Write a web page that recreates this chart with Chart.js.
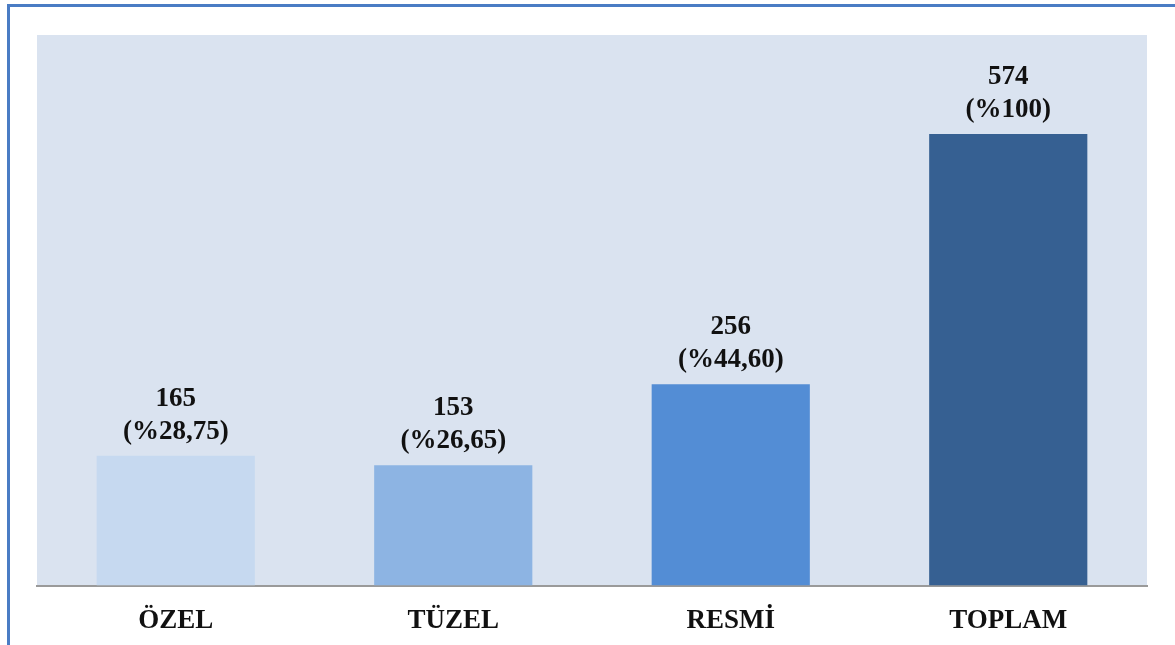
<!DOCTYPE html>
<html>
<head>
<meta charset="utf-8">
<script src="https://cdn.jsdelivr.net/npm/chart.js@4"></script>
<style>
  html, body { margin: 0; padding: 0; background: #ffffff; }
  #wrap { position: relative; width: 1175px; height: 645px; }
  #frame {
    position: absolute; left: 7px; top: 4px; right: 0; bottom: 0;
    border-top: 3px solid #4a7cc4; border-left: 3px solid #4a7cc4;
  }
  canvas { position: absolute; left: 0; top: 0; }
</style>
</head>
<body>
<div id="wrap">
  <div id="frame"></div>
  <canvas id="chart" width="1175" height="645"></canvas>
</div>
<script>
const categories = ['ÖZEL', 'TÜZEL', 'RESMİ', 'TOPLAM'];
const counts = [165, 153, 256, 574];
const shares = ['%28,75', '%26,65', '%44,60', '%100'];
const barColors = ['#c6d9f0', '#8db4e3', '#538dd5', '#366092'];

// plot area fill + value labels over each bar
const plotBg = {
  id: 'plotBg',
  beforeDraw(chart) {
    const { ctx, chartArea: a } = chart;
    ctx.save();
    ctx.fillStyle = '#dae3f0';
    ctx.fillRect(a.left, a.top, a.right - a.left, a.bottom - a.top);
    ctx.restore();
  }
};

const valueLabels = {
  id: 'valueLabels',
  afterDatasetsDraw(chart) {
    const { ctx } = chart;
    const meta = chart.getDatasetMeta(0);
    ctx.save();
    ctx.fillStyle = '#111111';
    ctx.font = 'bold 27px "Liberation Serif", "Times New Roman", serif';
    ctx.textAlign = 'center';
    ctx.textBaseline = 'middle';
    meta.data.forEach((bar, i) => {
      ctx.fillText(String(counts[i]), bar.x, bar.y - 57);
      ctx.fillText('(' + shares[i] + ')', bar.x, bar.y - 24);
    });
    ctx.restore();
  }
};

new Chart(document.getElementById('chart'), {
  type: 'bar',
  data: {
    labels: categories,
    datasets: [{
      data: counts,
      backgroundColor: barColors,
      barPercentage: 0.57,
      categoryPercentage: 1.0
    }]
  },
  options: {
    responsive: false,
    animation: false,
    layout: { padding: { left: 37, right: 28, top: 35, bottom: -11 } },
    plugins: { legend: { display: false }, tooltip: { enabled: false } },
    scales: {
      x: {
        grid: { display: false, drawTicks: false },
        border: { display: true, color: '#9a9a9a', width: 2 },
        ticks: {
          color: '#111111',
          padding: 19,
          font: { family: '"Liberation Serif", "Times New Roman", serif', size: 27, weight: 'bold' }
        }
      },
      y: {
        display: false,
        min: 0,
        max: 700
      }
    }
  },
  plugins: [plotBg, valueLabels]
});
</script>
</body>
</html>
